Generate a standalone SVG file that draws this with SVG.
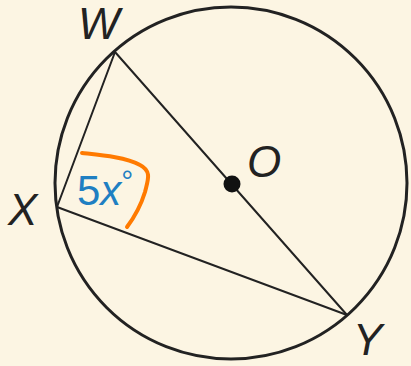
<svg xmlns="http://www.w3.org/2000/svg" width="411" height="366" viewBox="0 0 411 366">
<style>
.ln{stroke:#222;stroke-width:2;fill:none;stroke-linecap:round}
.lbl{font-family:"Liberation Sans",Arial,sans-serif;font-size:44px;font-style:italic;fill:#222}
.ang{font-family:"Liberation Sans",Arial,sans-serif;font-size:42px;fill:#1f7fc2}
</style>
<rect width="411" height="366" fill="#fcf5e3"/>
<g id="circle"><circle cx="231" cy="183" r="176" fill="none" stroke="#222" stroke-width="3"/></g>
<g id="connectors">
<line class="ln" x1="115" y1="52" x2="57" y2="207"/>
<line class="ln" x1="57" y1="207" x2="347" y2="315"/>
<line class="ln" x1="115" y1="52" x2="347" y2="315"/>
</g>
<g id="W"><text class="lbl" x="78" y="39" font-size="42">W</text></g>
<g id="X"><text class="lbl" x="8" y="225">X</text></g>
<g id="Y"><text class="lbl" x="353" y="355">Y</text></g>
<g id="O"><circle cx="232" cy="184" r="8.5" fill="#111"/><text class="lbl" x="247" y="177">O</text></g>
<g id="angle">
<path d="M82,153 C100,155 125,157 140,165 C152,171 148,180 145,192 C141,205 136,215 127,227" fill="none" stroke="#ff7a00" stroke-width="4" stroke-linecap="round"/>
<text class="ang" x="77" y="205">5<tspan font-style="italic">x</tspan><tspan font-size="30" dy="-14">°</tspan></text>
</g>
</svg>
